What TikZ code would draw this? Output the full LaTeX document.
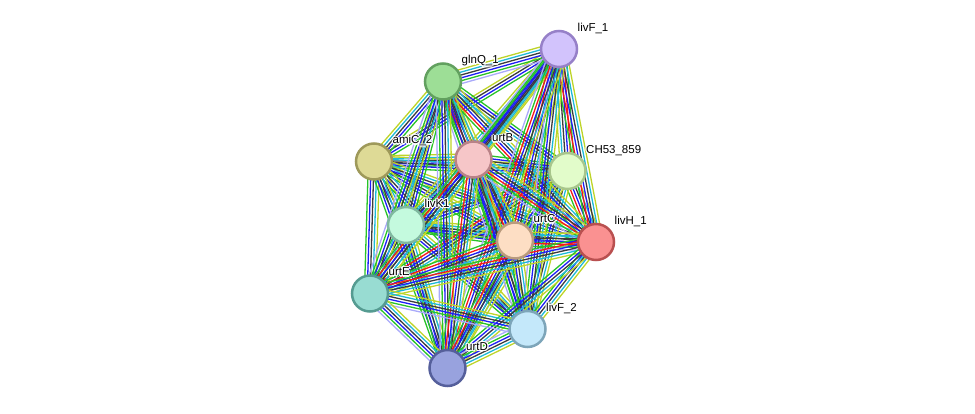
\documentclass[tikz,border=0pt]{standalone}
\usepackage{fontspec}
\setmainfont{Liberation Sans}
\usetikzlibrary{calc}
\pgfdeclarelayer{background}
\pgfsetlayers{background,main}
\definecolor{nb}{RGB}{40,195,40}
\definecolor{fu}{RGB}{245,25,25}
\definecolor{co}{RGB}{30,30,245}
\definecolor{ce}{RGB}{60,60,60}
\definecolor{db}{RGB}{30,185,215}
\definecolor{tm}{RGB}{190,212,40}
\definecolor{ho}{RGB}{170,170,250}
\newcommand\mynum{0}
\newcommand\bund[3]{%
  \xdef\mynum{0}%
  \foreach \x in {#3}{\xdef\mynum{\number\numexpr\mynum+1\relax}}%
  \foreach \c [count=\i] in {#3}{%
    \pgfmathsetmacro\off{(\i-(\mynum+1)/2)*2.8}%
    \draw[edgeline,\c] ($(#1.center)!\off pt!90:(#2.center)$) -- ($(#2.center)!\off pt!-90:(#1.center)$);}}
\newcommand\lab[2]{%
  \foreach \dx/\dy [count=\k] in {-1.3/0,1.3/0,0/-1.3,0/1.3,-0.9/-0.9,0.9/0.9,-0.9/0.9,0.9/-0.9}{%
    \node[lbl,text=white] (#1h\k) at ($(#1)+(18.5+\dx,-17.5+\dy)$) {#2};}%
  \node[lbl] (#1t) at ($(#1)+(18.5,-17.5)$) {#2};}
\tikzset{
  prot/.style={circle,minimum size=36pt,inner sep=0pt,line width=2.5pt},
  lbl/.style={anchor=base west,font=\fontsize{11.5}{12}\selectfont,inner sep=0pt,text=black},
  edgeline/.style={line width=1.3pt}
}
\begin{document}
\begin{tikzpicture}[x=1pt,y=-1pt]
\useasboundingbox (0,0) rectangle (975,414);
\node[prot,fill={rgb,255:red,210;green,195;blue,252},draw={rgb,255:red,150;green,128;blue,200}] (lF1) at (559,49) {};
\node[prot,fill={rgb,255:red,157;green,222;blue,150},draw={rgb,255:red,98;green,160;blue,95}] (gQ1) at (443,81.5) {};
\node[prot,fill={rgb,255:red,222;green,218;blue,150},draw={rgb,255:red,158;green,153;blue,90}] (aC2) at (374,161.5) {};
\node[prot,fill={rgb,255:red,246;green,198;blue,200},draw={rgb,255:red,185;green,130;blue,135}] (uB) at (473.5,159.5) {};
\node[prot,fill={rgb,255:red,226;green,252;blue,202},draw={rgb,255:red,168;green,198;blue,140}] (CH) at (567.5,171) {};
\node[prot,fill={rgb,255:red,196;green,250;blue,222},draw={rgb,255:red,128;green,185;blue,160}] (lK1) at (406,225) {};
\node[prot,fill={rgb,255:red,253;green,222;blue,196},draw={rgb,255:red,185;green,155;blue,125}] (uC) at (515,240.5) {};
\node[prot,fill={rgb,255:red,250;green,145;blue,145},draw={rgb,255:red,185;green,80;blue,80}] (lH1) at (596,242) {};
\node[prot,fill={rgb,255:red,152;green,220;blue,210},draw={rgb,255:red,85;green,155;blue,145}] (uE) at (370,293.5) {};
\node[prot,fill={rgb,255:red,196;green,232;blue,250},draw={rgb,255:red,125;green,165;blue,185}] (lF2) at (527.5,329) {};
\node[prot,fill={rgb,255:red,152;green,162;blue,222},draw={rgb,255:red,85;green,95;blue,155}] (uD) at (447.5,368) {};
\begin{pgfonlayer}{background}
% plain edges
\bund{aC2}{lF1}{nb,co,ce,tm}
\bund{aC2}{gQ1}{nb,co,ce,db,tm}
\bund{aC2}{uB}{nb,co,ce,db,tm}
\bund{aC2}{CH}{nb,co,ce,db,tm}
\bund{aC2}{lK1}{nb,co,ce,db,tm}
\bund{aC2}{uC}{nb,co,ce,db,tm}
\bund{aC2}{lH1}{nb,co,ce,db,tm}
\bund{aC2}{uE}{nb,co,ce,db,tm}
\bund{aC2}{lF2}{nb,co,ce,db,tm}
\bund{aC2}{uD}{nb,co,ce,db,tm}
\bund{lK1}{lF1}{nb,co,ce,db,tm}
\bund{lK1}{gQ1}{nb,co,ce,db,tm}
\bund{lK1}{uB}{nb,co,ce,db,tm}
\bund{lK1}{CH}{nb,co,ce,db,tm}
\bund{lK1}{uC}{nb,co,ce,db,tm}
\bund{lK1}{lH1}{nb,co,ce,db,tm}
\bund{lK1}{uE}{nb,co,ce,db,tm}
\bund{lK1}{lF2}{nb,co,ce,db,tm}
\bund{lK1}{uD}{nb,co,ce,db,tm}
\bund{CH}{gQ1}{nb,co,ce,db,tm}
\bund{CH}{lF1}{nb,fu,co,ce,db,tm}
\bund{CH}{uB}{nb,co,ce,db,tm}
\bund{CH}{uC}{nb,co,ce,db,tm}
\bund{CH}{lH1}{nb,fu,co,ce,db,tm}
\bund{CH}{uE}{nb,fu,co,ce,db,tm}
\bund{CH}{lF2}{nb,co,ce,db,tm}
\bund{CH}{uD}{nb,co,ce,db,tm}
% transporter edges
\bund{gQ1}{lF1}{ho,nb,co,ce,db,tm}
\bund{gQ1}{uB}{nb,fu,co,ce,db,tm}
\bund{gQ1}{uC}{nb,fu,co,ce,db,tm}
\bund{gQ1}{lH1}{nb,fu,co,ce,db,tm}
\bund{gQ1}{uE}{ho,nb,co,ce,db,tm}
\bund{gQ1}{lF2}{ho,nb,co,ce,db,tm}
\bund{gQ1}{uD}{ho,nb,co,ce,db,tm}
\bund{lF1}{uB}{nb,co,ce,db,tm}
\bund{lF1}{uC}{nb,fu,co,ce,db,tm}
\bund{lF1}{lH1}{nb,fu,co,ce,db,tm}
\bund{lF1}{uE}{ho,nb,co,ce,db,tm}
\bund{lF1}{lF2}{ho,nb,co,ce,db,tm}
\bund{lF1}{uD}{ho,nb,fu,co,ce,db,tm}
\bund{uB}{uC}{ho,nb,fu,co,ce,db,tm}
\bund{uB}{lH1}{ho,nb,fu,co,ce,db,tm}
\bund{uB}{uE}{nb,fu,co,ce,db,tm}
\bund{uB}{lF2}{nb,co,ce,db,tm}
\bund{uB}{uD}{nb,fu,co,ce,db,tm}
\bund{uC}{lH1}{ho,nb,fu,co,ce,db,tm}
\bund{uC}{uE}{nb,fu,co,ce,db,tm}
\bund{uC}{lF2}{nb,co,ce,db,tm}
\bund{uC}{uD}{nb,fu,co,ce,db,tm}
\bund{lH1}{uE}{nb,fu,co,ce,db,tm}
\bund{lH1}{lF2}{nb,co,ce,db,tm}
\bund{lH1}{uD}{nb,co,ce,db,tm}
\bund{uE}{lF2}{ho,nb,co,ce,db,tm}
\bund{uE}{uD}{ho,nb,co,ce,db,tm}
\bund{lF2}{uD}{ho,nb,co,ce,db,tm}
\end{pgfonlayer}
\lab{lF1}{livF\_1}
\lab{gQ1}{glnQ\_1}
\lab{aC2}{amiC\_2}
\lab{uB}{urtB}
\lab{CH}{CH53\_859}
\lab{lK1}{livK1}
\lab{uC}{urtC}
\lab{lH1}{livH\_1}
\lab{uE}{urtE}
\lab{lF2}{livF\_2}
\lab{uD}{urtD}
\end{tikzpicture}
\end{document}
